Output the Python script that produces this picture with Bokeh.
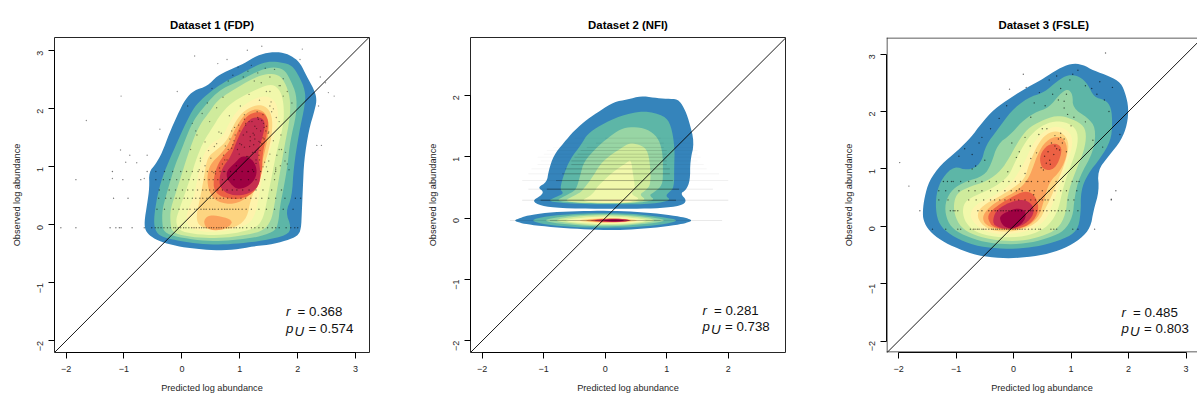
import math
from bokeh.plotting import figure
from bokeh.layouts import row
from bokeh.models import FixedTicker, Label, Span
from bokeh.embed import file_html
from bokeh.resources import INLINE

level_colors = ["#3584BB", "#5DB6A7", "#98D5A4", "#CFEB9C", "#F1F8AB", "#FEF3AC", "#FDD581", "#FBA35C", "#EC6144", "#C62E50", "#9E0142"]

titles = ["Dataset 1 (FDP)", "Dataset 2 (NFI)", "Dataset 3 (FSLE)"]
x_label = "Predicted log abundance"
y_label = "Observed log abundance"
r_values = ["0.368", "0.281", "0.485"]
pu_values = ["0.574", "0.738", "0.803"]
note_x = [1.80, 1.58, 1.88]
note_r_y = [-1.625, -1.62, -1.625]
note_p_y = [-1.915, -1.89, -1.915]

p1_ticks_x = [-2, -1, 0, 1, 2, 3]
p1_ticks_y = [-2, -1, 0, 1, 2, 3]
p2_ticks_x = [-2, -1, 0, 1, 2]
p2_ticks_y = [-2, -1, 0, 1, 2]
p3_ticks_x = [-2, -1, 0, 1, 2, 3]
p3_ticks_y = [-2, -1, 0, 1, 2, 3]

# ---- Dataset 1 density bands (x, y)
p1_l1 = [[(-0.65,0.05),(-0.63,-0.10),(-0.54,-0.20),(-0.37,-0.29),(-0.08,-0.37),(0.21,-0.41),(0.55,-0.44),(0.90,-0.43),(1.24,-0.37),(1.59,-0.33),(1.87,-0.25),(2.02,-0.17),(2.06,-0.04),(2.07,0.19),(2.09,0.65),(2.11,1.11),(2.19,1.63),(2.30,2.00),(2.33,2.17),(2.28,2.34),(2.15,2.57),(2.05,2.78),(1.93,2.89),(1.76,2.97),(1.53,2.98),(1.30,2.92),(1.07,2.78),(0.84,2.68),(0.61,2.57),(0.44,2.39),(0.21,2.32),(0.06,2.17),(-0.08,1.89),(-0.22,1.57),(-0.34,1.25),(-0.45,1.05),(-0.57,0.91),(-0.56,0.65),(-0.60,0.36)]]
p1_l2 = [[(-0.49,0.07),(-0.45,-0.13),(-0.31,-0.22),(-0.02,-0.28),(0.32,-0.33),(0.67,-0.34),(1.01,-0.32),(1.41,-0.27),(1.82,-0.18),(1.89,-0.04),(1.79,0.22),(1.90,0.48),(1.93,0.99),(2.02,1.57),(2.13,2.09),(2.13,2.32),(2.02,2.57),(1.90,2.75),(1.73,2.80),(1.53,2.82),(1.36,2.78),(1.16,2.68),(0.95,2.57),(0.78,2.49),(0.55,2.34),(0.38,2.20),(0.21,2.03),(0.06,1.74),(-0.08,1.43),(-0.22,1.11),(-0.34,0.82),(-0.43,0.48)]]
p1_l3 = [[(-0.34,0.02),(-0.31,-0.13),(-0.08,-0.21),(0.32,-0.27),(0.67,-0.28),(1.01,-0.25),(1.36,-0.20),(1.62,-0.10),(1.67,0.07),(1.69,0.30),(1.76,0.65),(1.82,0.99),(1.87,1.45),(1.98,1.91),(1.98,2.25),(1.87,2.51),(1.76,2.69),(1.56,2.72),(1.36,2.67),(1.16,2.57),(0.95,2.46),(0.72,2.36),(0.55,2.23),(0.38,2.03),(0.24,1.86),(0.12,1.63),(0.01,1.34),(-0.11,1.05),(-0.20,0.76),(-0.28,0.48),(-0.34,0.25)]]
p1_l4 = [[(-0.20,0.05),(-0.17,-0.13),(0.09,-0.20),(0.44,-0.23),(0.78,-0.22),(1.13,-0.17),(1.41,-0.10),(1.54,0.07),(1.59,0.30),(1.64,0.59),(1.70,0.94),(1.78,1.40),(1.87,1.86),(1.87,2.20),(1.78,2.46),(1.67,2.59),(1.47,2.61),(1.24,2.53),(1.01,2.40),(0.78,2.26),(0.61,2.14),(0.47,1.94),(0.32,1.74),(0.21,1.51),(0.09,1.17),(-0.02,0.82),(-0.13,0.48),(-0.20,0.25)]]
p1_l5 = [[(-0.11,0.07),(-0.05,-0.10),(0.21,-0.16),(0.61,-0.18),(1.01,-0.13),(1.30,-0.04),(1.41,0.13),(1.47,0.42),(1.56,0.88),(1.64,1.28),(1.76,1.74),(1.76,2.09),(1.70,2.32),(1.56,2.43),(1.36,2.37),(1.07,2.23),(0.84,2.09),(0.67,1.91),(0.53,1.68),(0.38,1.45),(0.26,1.17),(0.15,0.82),(0.03,0.48),(-0.05,0.25)]]
p1_l6 = [[(0.06,0.07),(0.15,-0.07),(0.44,-0.13),(0.84,-0.10),(1.16,0.01),(1.27,0.19),(1.33,0.48),(1.41,0.94),(1.54,1.34),(1.64,1.68),(1.67,1.97),(1.59,2.17),(1.41,2.23),(1.18,2.14),(0.95,1.97),(0.81,1.74),(0.70,1.51),(0.49,1.40),(0.35,1.17),(0.26,0.76),(0.21,0.48),(0.12,0.30)]]
p1_l7 = [[(0.24,0.13),(0.31,-0.04),(0.61,-0.10),(0.95,-0.04),(1.13,0.13),(1.18,0.42),(1.33,0.76),(1.47,1.17),(1.56,1.57),(1.56,1.89),(1.44,2.06),(1.24,2.06),(1.04,1.94),(0.90,1.74),(0.78,1.45),(0.61,1.30),(0.44,1.17),(0.38,0.82),(0.32,0.48)]]
p1_l8 = [[(0.47,0.56),(0.61,0.39),(0.90,0.35),(1.16,0.48),(1.30,0.76),(1.41,1.17),(1.50,1.57),(1.50,1.80),(1.41,1.97),(1.24,2.00),(1.07,1.89),(0.92,1.66),(0.81,1.40),(0.67,1.22),(0.49,1.05),(0.43,0.82)],
         [(0.37,0.05),(0.44,-0.08),(0.67,-0.10),(0.87,0.01),(0.84,0.10),(0.61,0.16),(0.44,0.16)]]
p1_l9 = [[(0.55,0.82),(0.55,0.59),(0.70,0.47),(1.01,0.43),(1.30,0.59),(1.39,0.94),(1.39,1.22),(1.47,1.57),(1.50,1.80),(1.41,1.94),(1.24,1.94),(1.10,1.86),(0.95,1.60),(0.87,1.34),(0.72,1.20),(0.61,1.02)]]
p1_l10 = [[(0.64,0.79),(0.67,0.62),(0.84,0.51),(1.10,0.51),(1.33,0.65),(1.36,0.94),(1.30,1.22),(1.41,1.57),(1.44,1.77),(1.36,1.86),(1.18,1.84),(1.04,1.65),(0.95,1.45),(0.84,1.17),(0.70,0.99)]]
p1_l11 = [[(0.77,0.82),(0.84,0.71),(0.95,0.61),(1.13,0.65),(1.27,0.79),(1.30,0.97),(1.21,1.14),(1.04,1.20),(0.90,1.05),(0.78,0.94)]]
p1_layers = [p1_l1, p1_l2, p1_l3, p1_l4, p1_l5, p1_l6, p1_l7, p1_l8, p1_l9, p1_l10, p1_l11]

# ---- Dataset 2 density bands
p2_l1 = [[(-1.10,0.50),(-0.95,0.58),(-0.92,0.77),(-0.84,1.02),(-0.67,1.23),(-0.51,1.42),(-0.29,1.61),(-0.08,1.75),(0.14,1.89),(0.36,1.93),(0.58,1.99),(0.79,1.96),(1.01,1.94),(1.18,1.94),(1.28,1.80),(1.36,1.59),(1.45,1.23),(1.38,0.93),(1.38,0.61),(1.31,0.45),(1.22,0.40),(1.33,0.28),(1.23,0.20),(0.90,0.16),(0.47,0.15),(-0.08,0.15),(-0.73,0.16),(-1.05,0.20),(-1.19,0.28),(-1.05,0.36),(-1.00,0.43)],
         [(-1.49,-0.04),(-1.38,0.00),(-1.27,0.04),(-0.95,0.09),(-0.51,0.11),(-0.08,0.12),(0.36,0.11),(0.79,0.08),(1.17,0.03),(1.32,0.00),(1.42,-0.04),(1.32,-0.08),(1.17,-0.11),(0.79,-0.16),(0.36,-0.19),(0.03,-0.20),(-0.40,-0.18),(-0.84,-0.15),(-1.22,-0.11),(-1.38,-0.08)]]
p2_l2 = [[(-0.74,0.47),(-0.67,0.72),(-0.57,0.96),(-0.38,1.21),(-0.29,1.37),(-0.08,1.51),(0.25,1.67),(0.63,1.75),(0.96,1.67),(1.07,1.51),(1.13,1.15),(1.12,0.83),(1.12,0.50),(1.04,0.42),(0.98,0.36),(1.07,0.29),(0.79,0.23),(0.20,0.22),(-0.51,0.23),(-0.95,0.27),(-0.81,0.34),(-0.67,0.40)],
         [(-1.24,-0.04),(-0.95,0.03),(-0.51,0.07),(-0.02,0.08),(0.47,0.07),(0.90,0.02),(1.23,-0.04),(0.90,-0.11),(0.47,-0.15),(-0.02,-0.16),(-0.51,-0.15),(-0.95,-0.11)]]
p2_l3 = [[(-0.47,0.47),(-0.40,0.72),(-0.35,0.91),(-0.16,1.13),(0.06,1.32),(0.25,1.45),(0.44,1.49),(0.68,1.45),(0.85,1.32),(0.93,1.10),(0.94,0.77),(0.93,0.53),(0.79,0.42),(0.71,0.37),(0.82,0.29),(0.47,0.24),(-0.08,0.24),(-0.51,0.25),(-0.81,0.28),(-0.65,0.36),(-0.54,0.42)],
         [(-1.07,-0.04),(-0.62,0.04),(-0.02,0.07),(0.58,0.04),(1.07,-0.04),(0.58,-0.11),(-0.02,-0.14),(-0.62,-0.11)]]
p2_l4 = [[(-0.34,0.49),(-0.21,0.66),(-0.08,0.88),(0.09,1.03),(0.28,1.15),(0.39,1.22),(0.55,1.20),(0.68,1.12),(0.73,0.88),(0.74,0.55),(0.66,0.45),(0.55,0.38),(0.68,0.29),(0.36,0.24),(-0.08,0.24),(-0.46,0.25),(-0.67,0.28),(-0.51,0.36),(-0.40,0.42)],
         [(-0.89,-0.04),(-0.46,0.03),(-0.02,0.05),(0.47,0.03),(0.90,-0.04),(0.47,-0.10),(-0.02,-0.12),(-0.46,-0.10)]]
p2_l5 = [[(-0.13,0.51),(0.11,0.74),(0.36,0.91),(0.42,0.95),(0.45,0.72),(0.49,0.47),(0.41,0.39),(0.58,0.31),(0.36,0.25),(-0.08,0.24),(-0.40,0.28),(-0.24,0.36),(-0.16,0.45)],
         [(-0.73,-0.04),(-0.35,0.01),(0.01,0.03),(0.41,0.01),(0.74,-0.04),(0.41,-0.09),(0.01,-0.10),(-0.35,-0.09)]]
p2_l6 = [[(-0.18,0.28),(0.09,0.31),(0.36,0.30),(0.47,0.27),(0.14,0.26)],
         [(-0.59,-0.04),(-0.24,0.00),(0.03,0.01),(0.36,-0.01),(0.66,-0.04),(0.36,-0.08),(0.03,-0.09),(-0.24,-0.08)]]
p2_l7 = [[(-0.48,-0.04),(-0.20,-0.01),(0.03,0.00),(0.30,-0.01),(0.58,-0.04),(0.30,-0.07),(0.03,-0.08),(-0.20,-0.07)]]
p2_l8 = [[(-0.38,-0.04),(-0.08,-0.01),(0.20,-0.01),(0.49,-0.04),(0.20,-0.07),(-0.08,-0.07)]]
p2_l9 = [[(-0.30,-0.04),(-0.05,-0.015),(0.20,-0.015),(0.47,-0.04),(0.20,-0.066),(-0.05,-0.066)]]
p2_l10 = [[(-0.24,-0.04),(0.06,-0.01),(0.25,-0.01),(0.44,-0.04),(0.25,-0.065),(0.06,-0.065)]]
p2_l11 = [[(-0.08,-0.04),(0.14,-0.015),(0.36,-0.04),(0.14,-0.06)]]
p2_layers = [p2_l1, p2_l2, p2_l3, p2_l4, p2_l5, p2_l6, p2_l7, p2_l8, p2_l9, p2_l10, p2_l11]

# ---- Dataset 3 density bands
p3_l1 = [[(-1.58,0.27),(-1.57,0.10),(-1.47,-0.08),(-1.26,-0.25),(-0.97,-0.39),(-0.63,-0.51),(-0.22,-0.56),(0.13,-0.55),(0.53,-0.50),(0.88,-0.39),(1.17,-0.22),(1.34,-0.02),(1.39,0.27),(1.49,0.62),(1.46,0.97),(1.66,1.23),(1.87,1.49),(1.98,1.78),(2.00,2.07),(1.95,2.30),(1.87,2.50),(1.66,2.62),(1.40,2.71),(1.20,2.82),(1.00,2.84),(0.77,2.74),(0.53,2.58),(0.24,2.42),(-0.05,2.24),(-0.34,2.04),(-0.57,1.78),(-0.74,1.55),(-0.97,1.32),(-1.26,1.08),(-1.47,0.79),(-1.55,0.50)]]
p3_l2 = [[(-1.35,0.21),(-1.26,-0.02),(-1.03,-0.19),(-0.68,-0.34),(-0.28,-0.39),(0.13,-0.39),(0.48,-0.34),(0.88,-0.22),(1.11,-0.08),(1.17,0.21),(1.17,0.62),(1.29,0.91),(1.52,1.20),(1.69,1.49),(1.72,1.78),(1.70,2.07),(1.60,2.20),(1.40,2.25),(1.29,2.48),(1.14,2.62),(0.94,2.64),(0.77,2.54),(0.53,2.33),(0.24,2.24),(-0.05,2.00),(-0.28,1.68),(-0.48,1.42),(-0.57,1.08),(-0.80,0.97),(-1.03,1.05),(-1.24,0.85),(-1.35,0.56)]]
p3_l3 = [[(-1.19,0.21),(-1.09,-0.02),(-0.86,-0.16),(-0.51,-0.28),(-0.10,-0.32),(0.30,-0.29),(0.65,-0.19),(0.88,-0.08),(1.03,0.16),(1.06,0.50),(1.14,0.85),(1.40,1.32),(1.43,1.72),(1.29,1.89),(1.03,2.06),(1.03,2.30),(0.94,2.40),(0.80,2.30),(0.62,2.07),(0.36,1.98),(0.13,1.81),(-0.05,1.60),(-0.28,1.43),(-0.39,1.08),(-0.51,0.88),(-0.86,0.77),(-1.06,0.65),(-1.18,0.45)]]
p3_l4 = [[(-1.03,0.21),(-0.92,-0.02),(-0.68,-0.16),(-0.28,-0.25),(0.13,-0.26),(0.48,-0.18),(0.77,-0.05),(0.91,0.21),(0.94,0.56),(1.06,0.91),(1.23,1.32),(1.27,1.61),(1.20,1.78),(0.94,1.90),(0.74,1.93),(0.48,1.84),(0.24,1.70),(0.07,1.46),(-0.07,1.20),(-0.22,0.97),(-0.45,0.79),(-0.74,0.70),(-0.97,0.59),(-1.04,0.42)]]
p3_l5 = [[(-0.89,0.21),(-0.80,0.01),(-0.60,-0.13),(-0.22,-0.20),(0.19,-0.18),(0.50,-0.07),(0.68,0.10),(0.79,0.33),(0.85,0.62),(0.94,0.91),(1.11,1.37),(1.12,1.64),(1.00,1.78),(0.77,1.84),(0.53,1.78),(0.30,1.60),(0.13,1.34),(0.01,1.08),(-0.10,0.85),(-0.39,0.65),(-0.68,0.53),(-0.86,0.42)]]
p3_l6 = [[(-0.77,0.21),(-0.68,0.04),(-0.48,-0.10),(-0.16,-0.15),(0.19,-0.10),(0.45,0.01),(0.59,0.16),(0.68,0.39),(0.77,0.62),(0.88,0.97),(1.01,1.32),(1.03,1.55),(0.91,1.70),(0.71,1.75),(0.50,1.64),(0.33,1.43),(0.19,1.11),(0.07,0.91),(-0.07,0.71),(-0.39,0.50),(-0.65,0.39)]]
p3_l7 = [[(-0.64,0.21),(-0.57,0.04),(-0.37,-0.08),(-0.05,-0.10),(0.24,-0.03),(0.45,0.10),(0.55,0.30),(0.65,0.50),(0.77,0.79),(0.91,1.14),(0.97,1.43),(0.88,1.61),(0.71,1.67),(0.53,1.58),(0.39,1.37),(0.27,1.08),(0.19,0.82),(0.01,0.68),(-0.28,0.50),(-0.54,0.36)]]
p3_l8 = [[(-0.55,0.16),(-0.48,0.01),(-0.22,-0.06),(0.07,-0.06),(0.30,0.03),(0.45,0.19),(0.53,0.45),(0.62,0.77),(0.82,0.97),(0.94,1.26),(0.91,1.49),(0.77,1.58),(0.56,1.49),(0.42,1.26),(0.33,1.00),(0.24,0.80),(0.07,0.62),(-0.22,0.47),(-0.43,0.33)]]
p3_l9 = [[(0.45,1.17),(0.50,1.00),(0.65,0.97),(0.77,1.08),(0.85,1.34),(0.77,1.44),(0.62,1.43),(0.50,1.32)],
         [(-0.45,0.13),(-0.36,-0.02),(-0.10,-0.06),(0.16,-0.03),(0.36,0.10),(0.45,0.33),(0.36,0.56),(0.19,0.62),(-0.05,0.50),(-0.28,0.36),(-0.42,0.24)]]
p3_l10 = [[(-0.37,0.07),(-0.28,-0.02),(-0.08,-0.05),(0.16,0.01),(0.33,0.16),(0.36,0.33),(0.24,0.45),(0.07,0.46),(-0.13,0.39),(-0.31,0.27)]]
p3_l11 = [[(-0.24,0.13),(-0.19,0.01),(-0.05,-0.05),(0.10,0.00),(0.21,0.13),(0.21,0.27),(0.07,0.32),(-0.10,0.26),(-0.22,0.19)]]
p3_layers = [p3_l1, p3_l2, p3_l3, p3_l4, p3_l5, p3_l6, p3_l7, p3_l8, p3_l9, p3_l10, p3_l11]

# ---- Dots on the quantised rows of observed abundance
p1_row_y = [-0.05, 0.27, 0.46, 0.60, 0.78, 0.92]
p1_row_x = [
 [-2.09,-1.83,-1.24,-1.14,-1.08,-1.05,-0.86,-0.65,-0.52,-0.46,-0.41,-0.36,-0.31,-0.25,-0.20,-0.14,-0.11,-0.06,-0.02,0.03,0.07,0.12,0.17,0.21,0.25,0.30,0.34,0.38,0.42,0.47,0.51,0.55,0.60,0.64,0.68,0.72,0.77,0.81,0.85,0.90,0.94,1.00,1.05,1.12,1.20,1.26,1.33,1.40,1.48,1.56,1.62,1.68,1.80,1.88,1.95,2.00],
 [-0.43,-0.30,-0.15,-0.05,0.02,0.09,0.14,0.22,0.26,0.33,0.38,0.42,0.48,0.53,0.57,0.63,0.69,0.74,0.78,0.83,0.88,0.93,0.98,1.04,1.11,1.20,1.33,1.46,1.60,1.75,1.92],
 [-1.18,-0.93,-0.40,-0.28,-0.19,-0.10,-0.04,0.04,0.10,0.18,0.24,0.31,0.36,0.43,0.49,0.54,0.60,0.66,0.72,0.79,0.86,0.93,1.02,1.10,1.19,1.28,1.38,1.50,1.62,1.78,1.96,2.05],
 [-0.39,-0.22,-0.11,0.01,0.10,0.19,0.27,0.36,0.42,0.48,0.55,0.62,0.70,0.78,0.87,0.95,1.05,1.16,1.28,1.40,1.55,1.72],
 [-1.83,-1.02,-0.71,-0.45,-0.32,-0.21,-0.09,0.02,0.12,0.20,0.30,0.39,0.47,0.54,0.62,0.70,0.80,0.90,1.02,1.15,1.28,1.43,1.60],
 [-1.20,-0.60,-0.30,-0.16,-0.02,0.08,0.18,0.28,0.36,0.44,0.52,0.58,0.66,0.74,0.84,0.94,1.04,1.14,1.24,1.36,1.48,1.62],
]
p1_dot_x = [-1.65,-1.05,-1.06,-0.97,-0.90,-0.78,-1.20,-0.38,-0.60,-0.65,-0.45,1.13,1.38,0.22,0.62,0.78,2.08,2.04,2.39,2.48,2.53,2.63,2.36,2.33,2.41,-0.08,0.10,0.18,0.26,0.35,0.44,0.52,0.60,0.71,0.80,0.88,0.97,1.06,1.14,1.20,1.25,1.31,1.37,1.44,1.52,1.60,1.68,1.75,1.82,1.90,0.15,0.24,0.32,0.40,0.48,0.56,0.64,0.72,0.82,0.92,1.01,1.10,1.16,1.23,1.30,1.38,1.46,1.54,1.63,1.71,1.79,0.30,0.40,0.50,0.60,0.70,0.80,0.90,1.00,1.08,1.17,1.25,1.33,1.41,1.50,1.58,1.68,1.78,1.85,0.55,0.65,0.78,0.88,0.98,1.08,1.18,1.26,1.34,1.42,1.52,1.62,1.72,1.82,0.32,0.46,0.58,0.72,0.86,1.00,1.12,1.22,1.31,1.40,1.50,1.60,1.70,0.96,1.06,1.16,1.26,1.36,1.46,1.12,1.22,1.32,1.42,1.03,1.15,1.27,1.35,1.10,1.18,1.24,1.29,1.35,1.40,1.45,1.08,1.14,1.21,1.28,1.33,1.38,1.43,1.49,0.75,0.83,0.91,0.99,0.68,0.74,0.86,0.94,1.52,1.58,1.64,1.70,1.55,1.62,1.68,1.75,1.28,1.34,1.40,1.46,1.52]
p1_dot_y = [1.80,2.22,1.29,1.08,1.20,1.07,0.80,1.65,1.20,0.80,0.92,3.01,3.08,2.91,2.78,2.85,3.03,2.85,2.55,2.45,2.28,2.22,2.05,1.37,1.37,2.30,2.05,1.75,1.55,1.92,2.10,2.35,2.02,2.20,2.48,2.58,2.72,2.55,2.65,2.75,2.48,2.62,2.45,2.70,2.55,2.68,2.40,2.52,2.30,2.10,1.30,1.62,1.10,1.43,1.78,1.35,1.60,1.20,1.88,1.55,2.05,1.75,2.25,1.58,1.95,1.40,1.70,2.12,1.85,1.55,1.25,0.95,1.02,1.15,1.40,1.05,1.30,1.45,1.62,1.82,1.35,1.55,1.20,1.75,1.10,1.45,1.30,1.10,0.95,0.90,0.98,1.12,1.38,1.72,1.90,1.45,1.70,1.12,1.48,1.22,0.95,1.30,1.05,1.15,1.28,0.88,0.92,1.62,1.40,1.60,1.25,1.85,1.00,1.60,0.88,1.02,1.30,1.55,1.78,1.48,1.62,1.00,1.18,0.95,1.82,1.68,1.38,0.92,1.25,1.42,1.72,1.52,1.38,1.66,1.28,1.50,1.62,1.34,1.18,1.78,1.12,1.44,1.80,1.08,1.58,1.36,1.48,1.68,1.22,1.58,1.12,1.32,1.02,2.30,2.00,1.20,2.40,1.95,0.98,1.78,2.22,1.06,2.15,1.90,2.30,2.05]

p2_row_y = [-0.04, 0.29, 0.47, 0.61, 0.72, 0.80, 0.87, 0.93, 0.99, 1.04, 1.10, 1.15, 1.22, 1.30]
p2_row_x0 = [-1.55, -1.35, -1.25, -1.35, -1.25, -1.20, -1.10, -1.05, -1.10, -1.00, -0.95, -0.85, -0.70, -0.50]
p2_row_x1 = [1.90, 2.00, 1.75, 2.00, 1.85, 1.65, 1.60, 1.50, 1.55, 1.50, 1.50, 1.45, 1.40, 1.40]
p2_core_x0 = [-0.90, -1.05, -0.95, -0.80, -0.70, -0.65, -0.55, -0.55, -0.50, -0.45, -0.40, -0.30, -0.15, 0.00]
p2_core_x1 = [0.90, 1.15, 1.20, 1.10, 1.05, 1.05, 1.00, 1.00, 1.00, 1.00, 1.00, 0.95, 0.95, 0.90]
p2_core_alpha = [0.20, 0.42, 0.38, 0.26, 0.22, 0.18, 0.16, 0.13, 0.12, 0.10, 0.09, 0.08, 0.06, 0.05]
p2_haze_alpha = [0.09, 0.10, 0.08, 0.06, 0.05, 0.04, 0.04, 0.03, 0.03, 0.03, 0.03, 0.02, 0.02, 0.02]

p3_row_y = [-0.05, 0.27, 0.46, 0.62, 0.78]
p3_row_x = [
 [-1.41,-1.18,-0.97,-0.92,-0.75,-0.70,-0.67,-0.63,-0.60,-0.55,-0.52,-0.48,-0.43,-0.38,-0.35,-0.31,-0.28,-0.24,-0.20,-0.16,-0.12,-0.08,-0.05,-0.01,0.03,0.07,0.11,0.15,0.20,0.26,0.32,0.38,0.44,0.47,0.65,0.70,0.75,1.03,1.12,1.41],
 [-1.63,-1.10,-1.05,-1.02,-0.97,-0.62,-0.55,-0.43,-0.38,-0.32,-0.28,-0.22,-0.18,-0.13,-0.08,-0.03,0.03,0.08,0.14,0.20,0.26,0.30,0.34,0.40,0.46,0.52,0.58,0.66,0.72,0.78,0.84,0.91,0.97,1.12],
 [-1.30,-1.14,-0.78,-0.65,-0.52,-0.40,-0.33,-0.24,-0.15,-0.05,0.02,0.09,0.20,0.30,0.38,0.45,0.50,0.55,0.60,0.70,0.95,1.05,1.70],
 [-1.30,-1.18,-0.95,-0.78,-0.67,-0.55,-0.40,-0.28,-0.15,-0.04,0.05,0.15,0.28,0.36,0.50,0.62,0.72,0.82,0.92,1.10,1.78],
 [-1.22,-1.15,-1.08,-1.05,-0.92,-0.78,-0.66,-0.55,-0.42,-0.30,-0.18,-0.08,0.03,0.12,0.22,0.25,0.31,0.42,0.53,0.61,0.74,0.86,1.02,1.10,1.14],
]
p3_dot_x = [-1.98,-1.82,0.17,-0.07,1.60,1.45,1.70,-0.72,-0.66,-0.55,-0.40,-0.25,-0.12,-0.03,0.10,0.22,0.30,0.36,0.45,0.55,0.62,0.68,0.75,0.82,0.88,0.92,0.98,1.03,1.12,1.25,1.36,1.50,1.58,1.66,1.72,1.85,-0.95,-0.85,-0.72,-0.60,-0.50,0.05,0.12,0.20,0.29,0.44,0.50,0.54,0.57,0.60,0.63,0.66,0.70,0.75,0.78,0.82,0.85,0.30,0.40,0.48,0.58,0.72,0.80,0.88,0.92,0.52,0.64,0.72,0.82,1.05,1.25,1.38,1.55,0.78,0.88,0.94,1.00,0.35,0.20,0.10,-0.10]
p3_dot_y = [1.11,0.70,2.65,2.39,3.02,2.30,0.47,1.25,1.05,1.55,1.70,1.88,2.10,1.45,1.30,2.42,1.90,2.15,2.33,2.10,2.55,2.30,2.62,2.40,2.18,2.30,2.55,2.65,2.72,2.45,2.40,2.52,2.20,2.00,2.42,1.60,1.22,1.35,1.00,1.45,1.15,1.20,1.05,1.55,1.40,1.60,1.70,1.22,1.10,1.30,1.15,1.45,1.25,1.35,1.52,1.55,1.45,1.18,1.28,1.02,1.70,1.58,1.33,1.52,1.30,0.98,1.08,1.40,1.62,1.90,1.82,1.50,1.38,2.20,2.06,1.95,1.75,0.55,0.92,0.65,0.95]

minus_labels = {-2: "\u22122", -1: "\u22121", 0: "0", 1: "1", 2: "2", 3: "3"}
INK = "#262626"
HEIGHT = 398
TOP = 37


def round_outline(poly, passes=2):
    """Round the corners of a traced outline (corner cutting), for drawing only."""
    pts = list(poly)
    for _ in range(passes):
        out = []
        for a, b in zip(pts, pts[1:] + pts[:1]):
            out.append((0.75 * a[0] + 0.25 * b[0], 0.75 * a[1] + 0.25 * b[1]))
            out.append((0.25 * a[0] + 0.75 * b[0], 0.25 * a[1] + 0.75 * b[1]))
        pts = out
    return pts


def make_panel(i, width, xr, yr, ticks_x, ticks_y, layers, left_border=46, right_border=55, box=True):
    p = figure(width=width, height=HEIGHT, x_range=xr, y_range=yr, output_backend="svg",
               toolbar_location=None, min_border_left=left_border, min_border_right=right_border,
               min_border_top=TOP, min_border_bottom=HEIGHT - TOP - 315,
               background_fill_color="white", border_fill_color="white")
    p.grid.visible = False
    p.title.text = titles[i]
    p.title.text_font = "Liberation Sans"
    p.title.text_font_size = "11.4px"
    p.title.text_font_style = "bold"
    p.title.text_color = "black"
    p.title.align = "center"
    p.title.standoff = 13
    p.outline_line_color = INK if box else None
    p.outline_line_width = 1

    for band, color in zip(layers, level_colors):
        for poly in band:
            pts = round_outline(poly)
            p.patch([c[0] for c in pts], [c[1] for c in pts], fill_color=color, line_color=None)

    for axis, ticks, label in ((p.xaxis[0], ticks_x, x_label), (p.yaxis[0], ticks_y, y_label)):
        axis.ticker = FixedTicker(ticks=ticks)
        axis.major_label_overrides = {t: minus_labels[t] for t in ticks}
        axis.bounds = (ticks[0], ticks[-1])
        axis.axis_line_color = "black"
        axis.major_tick_line_color = "black"
        axis.major_tick_out = 6
        axis.major_tick_in = 0
        axis.minor_tick_line_color = None
        axis.major_label_text_font = "Liberation Sans"
        axis.major_label_text_font_size = "9px"
        axis.major_label_text_color = INK
        axis.axis_label = label
        axis.axis_label_text_font = "Liberation Sans"
        axis.axis_label_text_font_size = "9.2px"
        axis.axis_label_text_font_style = "normal"
        axis.axis_label_text_color = INK
    p.xaxis[0].major_label_standoff = 7
    p.xaxis[0].axis_label_standoff = 8
    p.yaxis[0].major_label_orientation = math.pi / 2
    p.yaxis[0].major_label_standoff = 8
    p.yaxis[0].axis_label_standoff = 10
    return p


def add_dots(p, xs, ys, alpha=0.55):
    p.scatter(xs, ys, size=1.4, fill_color="black", fill_alpha=alpha, line_color=None)


def add_note(p, i):
    style = dict(text_font="Liberation Sans", text_font_size="13.3px", text_color="#111111")
    for kw in (
        dict(x=note_x[i], y=note_r_y[i], text="r", text_font_style="italic"),
        dict(x=note_x[i], y=note_r_y[i], x_offset=11.5, text="= " + r_values[i]),
        dict(x=note_x[i], y=note_p_y[i], text="p", text_font_style="italic"),
        dict(x=note_x[i], y=note_p_y[i], x_offset=8.5, y_offset=-3, text="U", text_font_style="italic"),
        dict(x=note_x[i], y=note_p_y[i], x_offset=22.5, text="= " + pu_values[i]),
    ):
        p.add_layout(Label(**kw, **style))


def add_diagonal(p, lo, hi):
    p.line([lo, hi], [lo, hi], line_color="black", line_width=0.9)


# Dataset 1
p1 = make_panel(0, 424, (-2.20, 3.24), (-2.20, 3.23), p1_ticks_x, p1_ticks_y, p1_layers, left_border=54)
for y, xs in zip(p1_row_y, p1_row_x):
    add_dots(p1, xs, [y] * len(xs))
add_dots(p1, p1_dot_x, p1_dot_y, alpha=0.45)
add_diagonal(p1, -2.2, 3.24)
add_note(p1, 0)

# Dataset 2
p2 = make_panel(1, 416, (-2.19, 2.93), (-2.19, 2.94), p2_ticks_x, p2_ticks_y, p2_layers)
for k, y in enumerate(p2_row_y):
    p2.line([p2_row_x0[k], p2_row_x1[k]], [y, y], line_color="black", line_alpha=p2_haze_alpha[k], line_width=1)
    p2.line([p2_core_x0[k], p2_core_x1[k]], [y, y], line_color="black", line_alpha=p2_core_alpha[k], line_width=1)
add_diagonal(p2, -2.19, 2.93)
add_note(p2, 1)

# Dataset 3: its right edge runs off the page
X3_LO, X3_HI, Y3_LO, Y3_HI = -2.21, 3.20, -2.20, 3.29
HALF_PX = 0.5 / 57.4
p3 = make_panel(2, 357, (X3_LO, X3_HI), (Y3_LO, Y3_HI), p3_ticks_x, p3_ticks_y, p3_layers,
                right_border=0, box=False)
p3.title.align = "left"
p3.title.offset = 112
p3.add_layout(Span(location=Y3_HI - HALF_PX, dimension="width", line_color=INK, line_width=1))
p3.add_layout(Span(location=Y3_LO + HALF_PX, dimension="width", line_color=INK, line_width=1))
p3.add_layout(Span(location=X3_LO + HALF_PX, dimension="height", line_color=INK, line_width=1))
for y, xs in zip(p3_row_y, p3_row_x):
    add_dots(p3, xs, [y] * len(xs), alpha=0.6)
add_dots(p3, p3_dot_x, p3_dot_y, alpha=0.6)
add_diagonal(p3, -2.21, 3.4)
add_note(p3, 2)

layout = row(p1, p2, p3)
open("out.html", "w").write(file_html(layout, INLINE))
